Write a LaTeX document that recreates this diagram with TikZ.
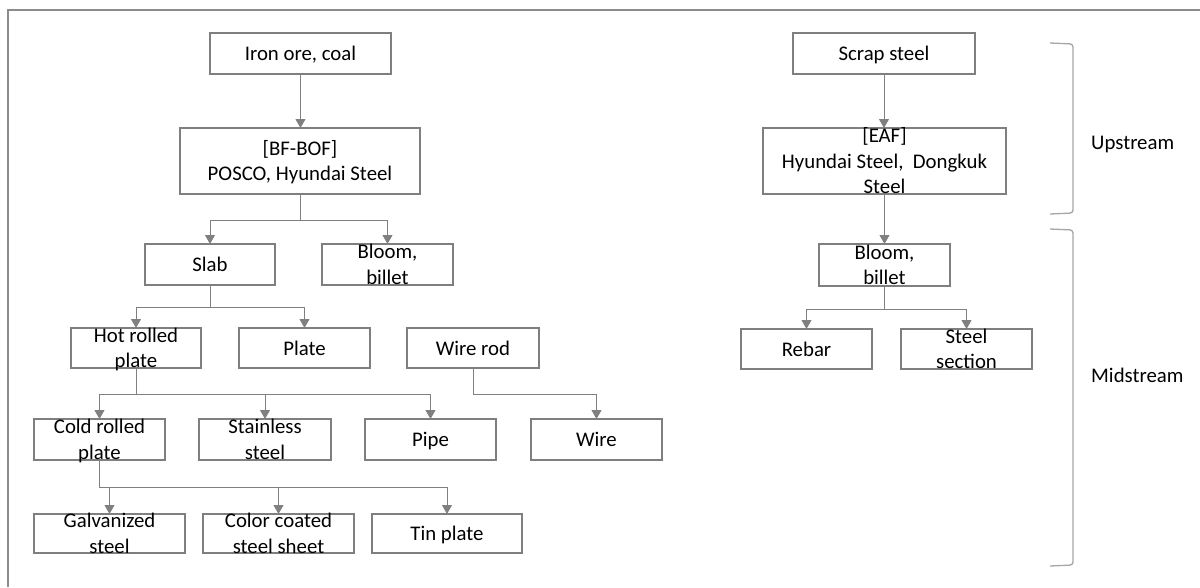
\documentclass[tikz,border=0pt]{standalone}
\usepackage{fontspec}
\setmainfont{Carlito}
\usetikzlibrary{arrows.meta}
\definecolor{boxgray}{HTML}{7F7F7F}
\definecolor{linegray}{HTML}{808080}
\definecolor{brgray}{HTML}{A6A6A6}
\definecolor{framegray}{HTML}{8C8C8C}
\newcommand{\mkbox}[6]{%
  \node[box, minimum width={(#4-#2)*1pt}, minimum height={(#5-#3)*1pt}] (#1) at ({(#2+#4)/2},{(#3+#5)/2}) {};
  \node[txt] (#1-t) at ([yshift=-2pt]#1.center) {#6};
}
\begin{document}
\begin{tikzpicture}[x=1pt,y=-1pt,
  box/.style={draw=boxgray, line width=1.3pt, inner sep=0pt, outer sep=0pt},
  txt/.style={inner sep=0pt, align=center, font=\fontsize{20.8}{25.5}\selectfont, text=black},
  conn/.style={draw=linegray, line width=1pt, -{Triangle[width=10pt,length=9pt]}},
  brace/.style={draw=brgray, line width=1.3pt, rounded corners=3pt}]
\useasboundingbox (0,0) rectangle (1200,587);
\draw[framegray, line width=1.5pt] (8,587) -- (8,10) -- (1200,10);

\mkbox{iron}{210}{33}{391}{74}{\strut Iron ore, coal}
\mkbox{bf}{180}{128}{420}{194}{\strut[BF-BOF]\\\strut POSCO, Hyundai Steel}
\mkbox{slab}{145}{244}{275}{285}{\strut Slab}
\mkbox{bloom}{322}{244}{453}{285}{\strut Bloom,\\\strut billet}
\mkbox{hot}{71}{328}{201}{368}{\strut Hot rolled\\\strut plate}
\mkbox{plate}{239}{328}{370}{368}{\strut Plate}
\mkbox{wirerod}{407}{328}{539}{368}{\strut Wire rod}
\mkbox{cold}{34}{419}{165}{460}{\strut Cold rolled\\\strut plate}
\mkbox{stain}{199}{419}{331}{460}{\strut Stainless\\\strut steel}
\mkbox{pipe}{365}{419}{496}{460}{\strut Pipe}
\mkbox{wire}{531}{419}{662}{460}{\strut Wire}
\mkbox{galv}{34}{514}{185}{553}{\strut Galvanized\\\strut steel}
\mkbox{color}{203}{514}{354}{553}{\strut Color coated\\\strut steel sheet}
\mkbox{tin}{372}{514}{522}{553}{\strut Tin plate}
\mkbox{scrap}{793}{33}{975}{74}{\strut Scrap steel}
\mkbox{eaf}{763}{128}{1006}{194}{\strut[EAF]\\\strut Hyundai Steel,~ Dongkuk\\\strut Steel}
\mkbox{bloomb}{819}{244}{950}{286}{\strut Bloom,\\\strut billet}
\mkbox{rebar}{741}{329}{872}{369}{\strut Rebar}
\mkbox{section}{901}{329}{1032}{369}{\strut Steel\\\strut section}

\coordinate (lv1) at (0,220);
\coordinate (lv2) at (0,307);
\coordinate (lv3) at (0,394);
\coordinate (lv4) at (0,487);
\coordinate (lv5) at (0,309);

\draw[conn] (iron.south) -- (iron.south |- bf.north);
\draw[conn] (bf.south) -- (bf.south |- lv1) -| (slab.north);
\draw[conn] (bf.south) -- (bf.south |- lv1) -| (bloom.north);
\draw[conn] (slab.south) -- (slab.south |- lv2) -| (hot.north);
\draw[conn] (slab.south) -- (slab.south |- lv2) -| (plate.north);
\draw[conn] (hot.south) -- (hot.south |- lv3) -| (cold.north);
\draw[conn] (hot.south) -- (hot.south |- lv3) -| (stain.north);
\draw[conn] (hot.south) -- (hot.south |- lv3) -| (pipe.north);
\draw[conn] (wirerod.south) -- (wirerod.south |- lv3) -| (wire.north);
\draw[conn] (cold.south) -- (cold.south |- lv4) -| (galv.north);
\draw[conn] (cold.south) -- (cold.south |- lv4) -| (color.north);
\draw[conn] (cold.south) -- (cold.south |- lv4) -| (tin.north);
\draw[conn] (scrap.south) -- (scrap.south |- eaf.north);
\draw[conn] (eaf.south) -- (eaf.south |- bloomb.north);
\draw[conn] (bloomb.south) -- (bloomb.south |- lv5) -| (rebar.north);
\draw[conn] (bloomb.south) -- (bloomb.south |- lv5) -| (section.north);

\draw[brace] (1050,43) -- (1073,44) -- (1073,213) -- (1050,214);
\draw[brace] (1050,229) -- (1073,230) -- (1073,565) -- (1050,566);
\node[txt, anchor=west] (up) at ([yshift=-1pt]1091,143) {\strut Upstream};
\node[txt, anchor=west] (mid) at ([yshift=-1pt]1091,376) {\strut Midstream};
\end{tikzpicture}
\end{document}
